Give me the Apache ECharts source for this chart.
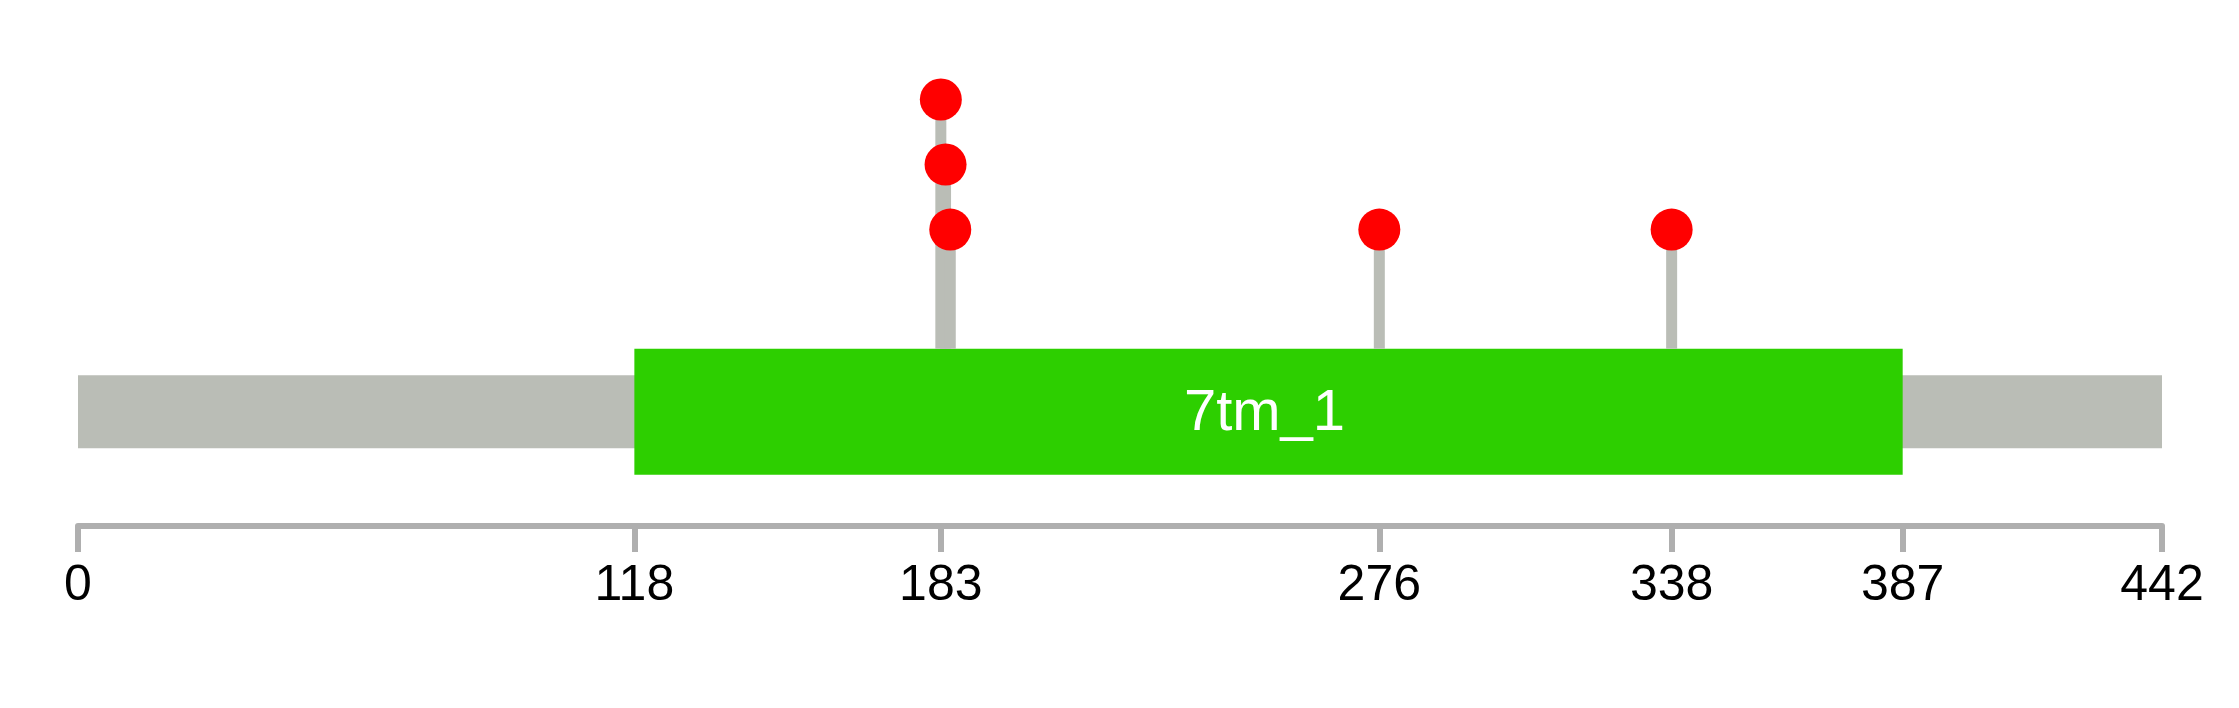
<!DOCTYPE html>
<html>
<head>
<meta charset="utf-8">
<script src="https://cdn.jsdelivr.net/npm/echarts@6/dist/echarts.min.js"></script>
<style>
  html, body { margin: 0; padding: 0; background: #ffffff; }
  #chart { width: 2239px; height: 708px; }
</style>
</head>
<body>
<div id="chart"></div>
<script>
// ---- data ----
const proteinLength = 442;
const domainNames = ['7tm_1'];
const domainStart = [118];
const domainEnd = [387];
const mutationPositions = [183, 184, 185, 276, 338];
const mutationLevels = [3, 2, 1, 1, 1];
const tickValues = [0, 118, 183, 276, 338, 387, 442];

// ---- layout / style constants ----
const trackLevel = -1.803;   // vertical level of the protein track centre
const backboneHeight = 73;
const domainHeight = 126;
const FONT = '"Liberation Sans", Arial, Helvetica, sans-serif';

const chart = echarts.init(document.getElementById('chart'), null, { renderer: 'canvas' });

const domainData = domainNames.map((n, i) => [domainStart[i], domainEnd[i], n]);
const mutationData = mutationPositions.map((p, i) => [p, mutationLevels[i]]);

chart.setOption({
  animation: false,
  backgroundColor: '#ffffff',
  grid: { left: 78, right: 77, top: 34.5, bottom: 182 },
  xAxis: {
    type: 'value',
    min: 0,
    max: proteinLength,
    splitLine: { show: false },
    axisLine: { show: true, onZero: false, lineStyle: { color: '#afafaf', width: 6 } },
    axisTick: {
      show: true,
      customValues: tickValues,
      length: 26,
      lineStyle: { color: '#afafaf', width: 6 }
    },
    axisLabel: {
      show: true,
      customValues: tickValues,
      showMinLabel: true,
      showMaxLabel: true,
      fontSize: 50,
      fontFamily: FONT,
      color: '#000000',
      margin: 35
    }
  },
  yAxis: {
    type: 'value',
    min: -3.56,
    max: 4,
    show: false
  },
  series: [
    {
      type: 'custom',
      name: 'backbone',
      z: 1,
      data: [[0, proteinLength]],
      renderItem: function (params, api) {
        const s = api.coord([api.value(0), trackLevel]);
        const e = api.coord([api.value(1), trackLevel]);
        return {
          type: 'rect',
          shape: { x: s[0], y: s[1] - backboneHeight / 2, width: e[0] - s[0], height: backboneHeight },
          style: { fill: '#babdb6' }
        };
      }
    },
    {
      type: 'custom',
      name: 'domains',
      z: 2,
      data: domainData,
      renderItem: function (params, api) {
        const s = api.coord([api.value(0), trackLevel]);
        const e = api.coord([api.value(1), trackLevel]);
        const name = domainData[params.dataIndex][2];
        return {
          type: 'group',
          children: [
            {
              type: 'rect',
              shape: { x: s[0], y: s[1] - domainHeight / 2, width: e[0] - s[0], height: domainHeight },
              style: { fill: '#2dcf00' }
            },
            {
              type: 'text',
              style: {
                text: name,
                x: (s[0] + e[0]) / 2 - 4,
                y: s[1] + 2,
                fill: '#ffffff',
                fontSize: 58,
                fontFamily: FONT,
                align: 'center',
                verticalAlign: 'middle'
              }
            }
          ]
        };
      }
    },
    {
      type: 'custom',
      name: 'stems',
      z: 3,
      data: mutationData,
      renderItem: function (params, api) {
        const p = api.coord([api.value(0), api.value(1)]);
        const base = api.coord([api.value(0), trackLevel])[1] - domainHeight / 2;
        return {
          type: 'line',
          shape: { x1: p[0], y1: p[1], x2: p[0], y2: base },
          style: { stroke: '#babdb6', lineWidth: 11 }
        };
      }
    },
    {
      type: 'scatter',
      name: 'mutations',
      z: 4,
      symbol: 'circle',
      symbolSize: 42,
      itemStyle: { color: '#ff0000', opacity: 1 },
      data: mutationData
    }
  ]
});
</script>
</body>
</html>
